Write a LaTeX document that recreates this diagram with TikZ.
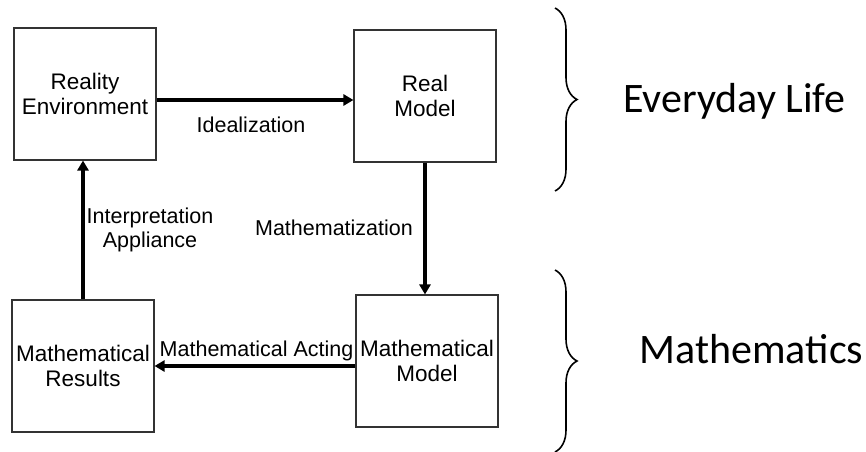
\documentclass[tikz,border=0pt]{standalone}
\usepackage{fontspec}
\setmainfont{Liberation Sans}
\newfontfamily\bracefont{Carlito}
\usetikzlibrary{arrows.meta,decorations.pathreplacing}
\tikzset{
  stagebox/.style={draw=black!80, line width=1.1pt, minimum width=142pt, minimum height=132pt,
    inner sep=0pt, align=center, font=\fontsize{22.5}{25}\selectfont},
  flow/.style={line width=3.4pt, -{Triangle[length=10pt,width=11pt]}},
  flowlabel/.style={inner sep=0pt, align=center, font=\fontsize{21.5}{23.5}\selectfont},
  groupbrace/.style={decorate, decoration={brace, amplitude=22pt}, line width=1.6pt},
  grouplabel/.style={inner sep=0pt, font=\bracefont\fontsize{42}{48}\selectfont}
}
\begin{document}
\begin{tikzpicture}[x=1pt, y=-1pt]
  \useasboundingbox (0,0) rectangle (866,451);

  % the four stages of the modelling cycle
  \node[stagebox] (re) at (85,94)  {Reality\\Environment};
  \node[stagebox] (rm) at (425,96) {Real\\Model};
  \node[stagebox] (mm) at (427,361) {Mathematical\\Model};
  \node[stagebox] (mr) at (83,366) {Mathematical\\Results};

  % transitions between the stages
  \draw[flow] ([yshift=-6pt]re.east) -- ([yshift=-6pt]re.east -| rm.west);
  \draw[flow] (rm.south) -- (rm.south |- mm.north);
  \draw[flow] (mr.east -| mm.west) -- (mr.east);
  \draw[flow] (mr.north) -- (mr.north |- re.south);

  \node[flowlabel] (lid) at (251,125) {Idealization};
  \node[flowlabel] (lma) at (334,228) {Mathematization};
  \node[flowlabel] (lac) at (256.5,351) {Mathematical Acting};
  \node[flowlabel] (lin) at (150,230) {Interpretation\\Appliance};

  % grouping braces
  \draw[groupbrace] (555,8) -- (555,191);
  \draw[groupbrace] (555,270) -- (555,452);
  \node[grouplabel, anchor=base] (everyday) at (734.5,112) {Everyday Life};
  \node[grouplabel, anchor=base] (maths) at (751.5,363) {Mathematics};
\end{tikzpicture}
\end{document}
